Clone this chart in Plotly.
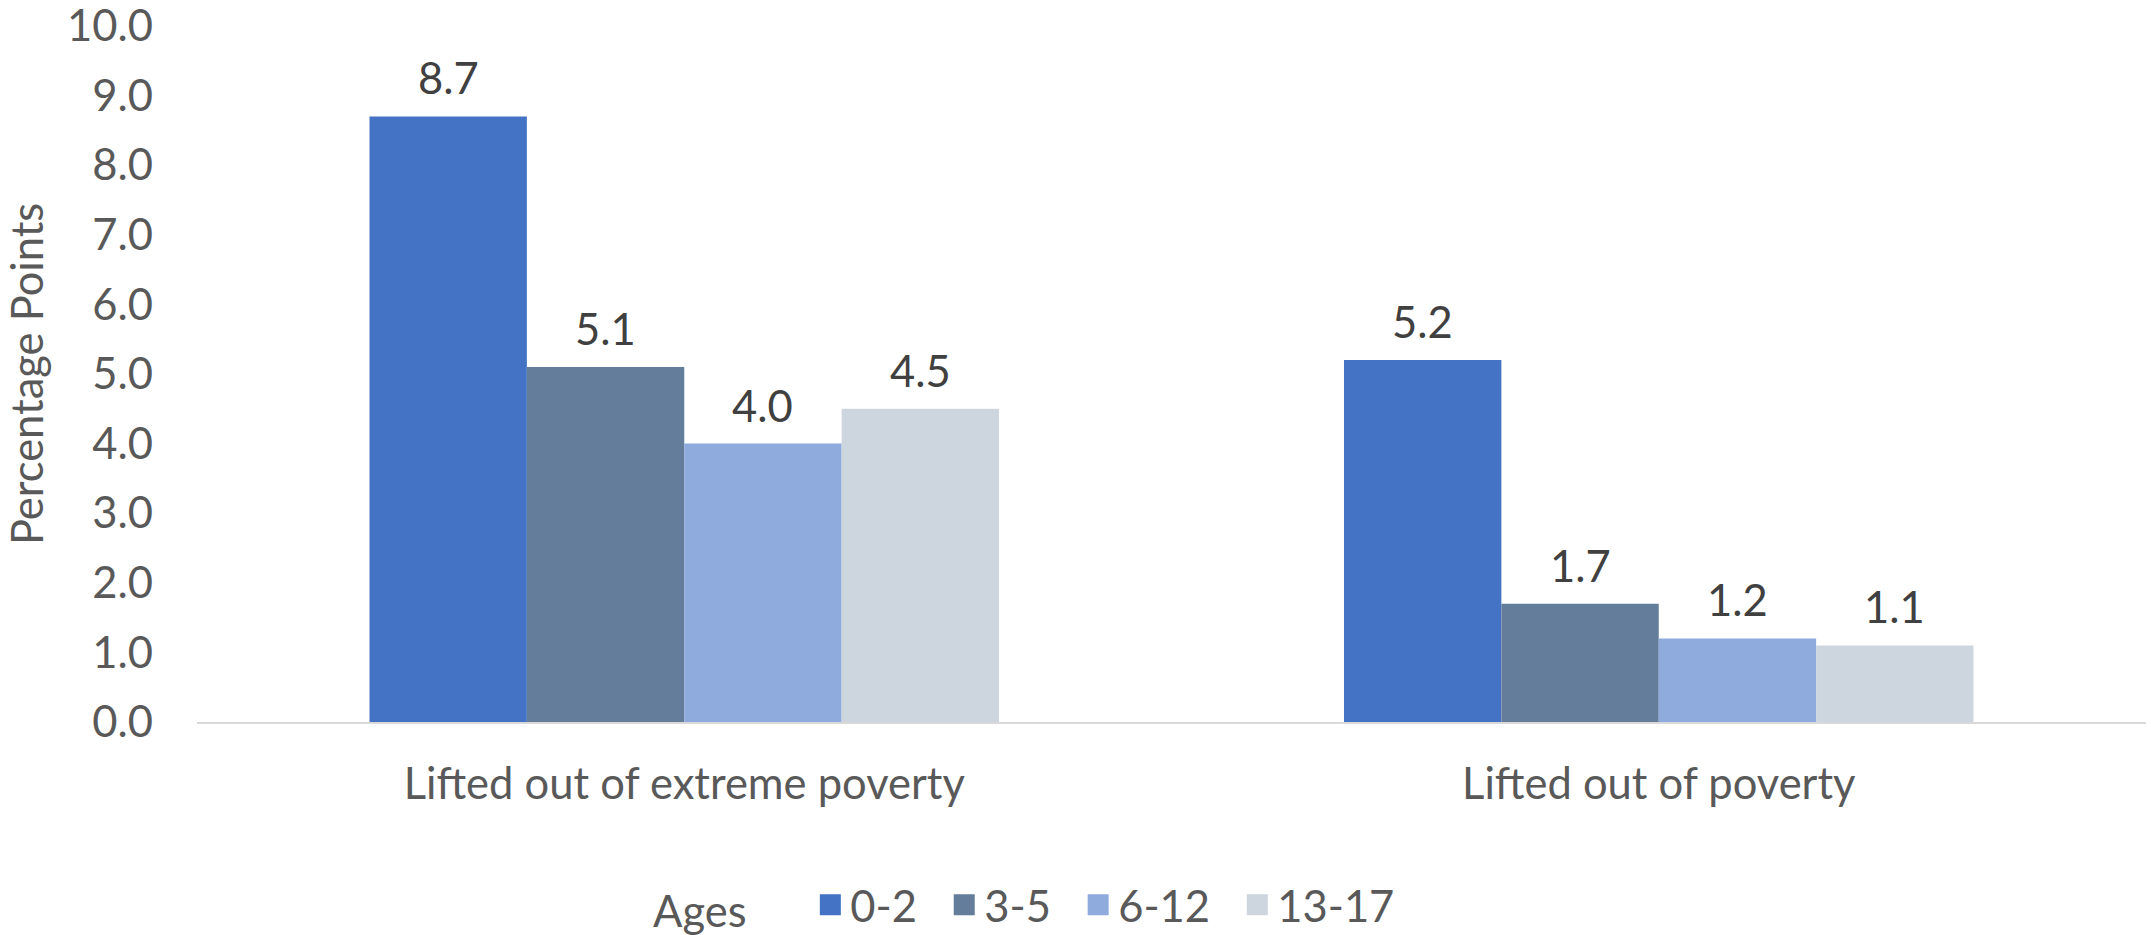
import plotly.graph_objects as go

# Poverty-reduction effect by age group (percentage points)
categories = ["Lifted out of extreme poverty", "Lifted out of poverty"]
age_groups = ["0-2", "3-5", "6-12", "13-17"]
values_0_2 = [8.7, 5.2]
values_3_5 = [5.1, 1.7]
values_6_12 = [4.0, 1.2]
values_13_17 = [4.5, 1.1]
colors = ["#4472C4", "#647D9B", "#8FAADC", "#CDD5DF"]
y_ticks = [0, 1, 2, 3, 4, 5, 6, 7, 8, 9, 10]

series = [values_0_2, values_3_5, values_6_12, values_13_17]

FONT = "Lato"
FS = 43.5
BARGAP = 0.354
NBSP = "&nbsp;"

fig = go.Figure()
for name, vals, col in zip(age_groups, series, colors):
    fig.add_trace(go.Bar(
        x=categories, y=vals, name=name, showlegend=False,
        marker=dict(color=col, line=dict(width=0)),
    ))

# legend entries: square swatches for each age group
for name, col in zip(age_groups, colors):
    fig.add_trace(go.Scatter(
        x=[None], y=[None], mode="markers", name=name + NBSP * 2,
        marker=dict(symbol="square", size=16, color=col,
                    line=dict(color=col, width=5)),
        hoverinfo="skip",
    ))

# value labels above each bar, centred on the bar's slot within its group
n = len(series)
slot = (1 - BARGAP) / n
annotations = []
for i, vals in enumerate(series):
    for j, v in enumerate(vals):
        annotations.append(dict(
            x=j + (i - (n - 1) / 2) * slot, y=v, xref="x", yref="y",
            text=f"{v:.1f}", showarrow=False, yanchor="bottom", yshift=11,
            font=dict(family=FONT, size=FS, color="#404040"),
        ))

fig.update_layout(
    width=2151, height=935,
    margin=dict(l=197, r=5, t=26, b=213, autoexpand=False),
    paper_bgcolor="white", plot_bgcolor="white",
    barmode="group", bargap=BARGAP, bargroupgap=0,
    font=dict(family=FONT, size=FS, color="#595959"),
    annotations=annotations,
    showlegend=True,
    legend=dict(
        orientation="h", x=0.233, xanchor="left", y=-0.263, yanchor="middle",
        title=dict(text="Ages" + NBSP * 5, side="left",
                   font=dict(family=FONT, size=FS, color="#595959")),
        font=dict(family=FONT, size=FS, color="#595959"),
        bgcolor="rgba(0,0,0,0)",
    ),
)
fig.update_xaxes(
    type="category", showgrid=False, zeroline=False,
    showline=True, linecolor="#D9D9D9", linewidth=2,
    ticks="", ticklabelstandoff=23,
    tickfont=dict(family=FONT, size=FS, color="#595959"),
)
fig.update_yaxes(
    range=[0, 10], tickvals=y_ticks, tickformat=".1f",
    showgrid=False, zeroline=False, showline=False, ticks="",
    ticklabelstandoff=43, ticklabeloverflow="allow",
    tickfont=dict(family=FONT, size=FS, color="#595959"),
    title=dict(text="Percentage Points", standoff=36,
               font=dict(family=FONT, size=FS, color="#595959")),
)

fig.write_html("out.html")
